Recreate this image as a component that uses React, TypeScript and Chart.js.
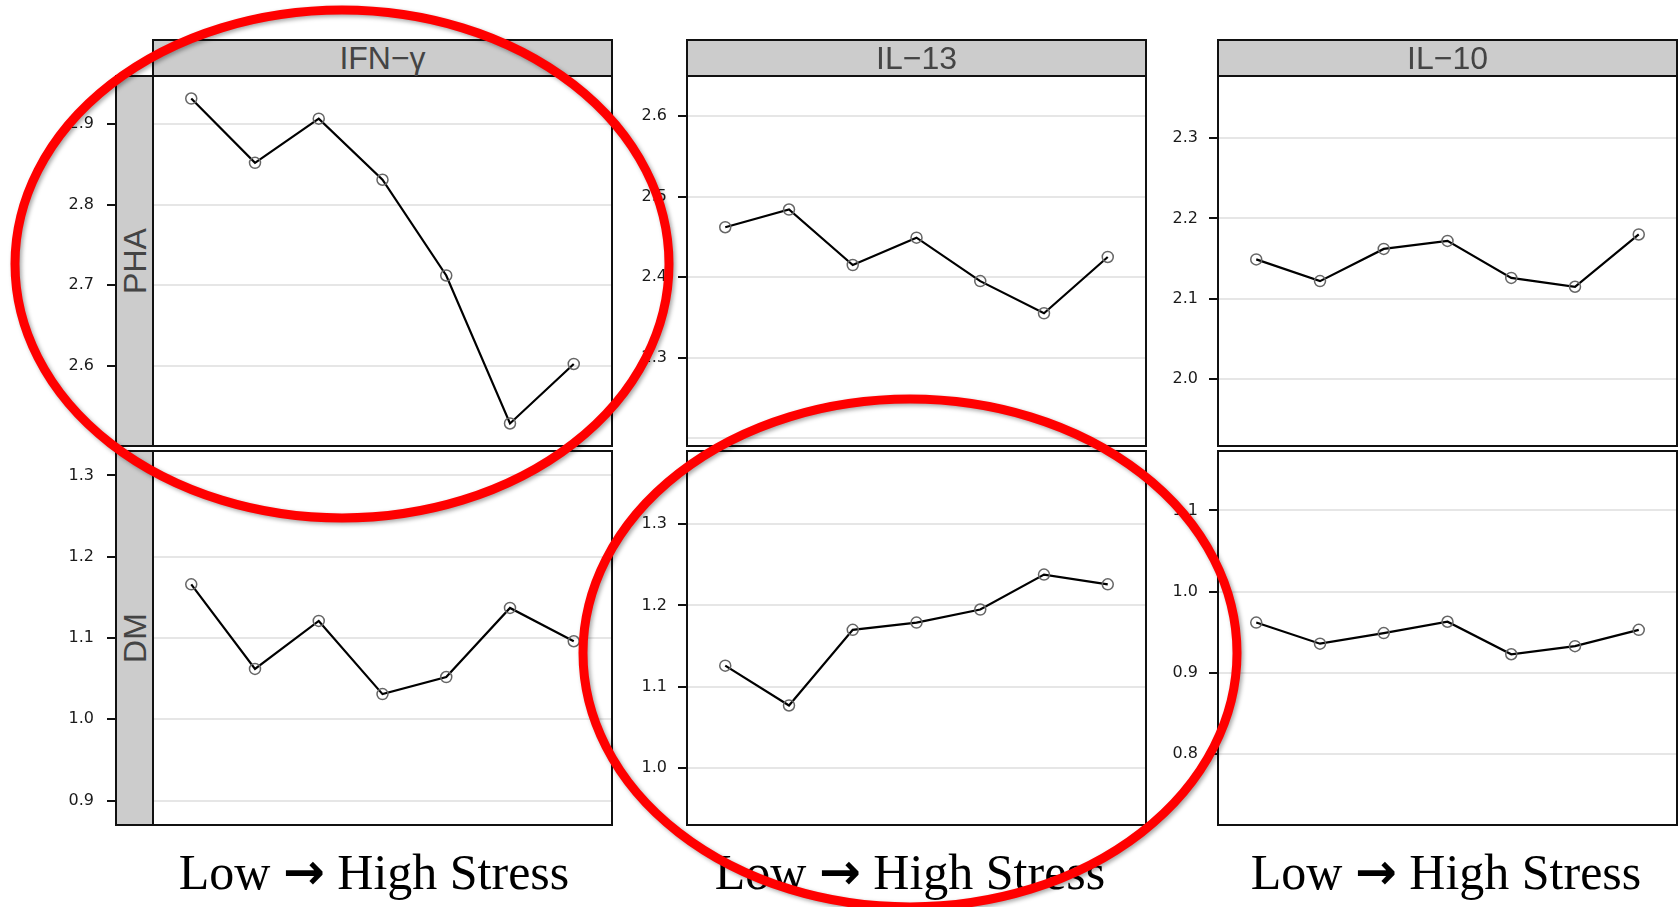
import React, { useEffect, useRef } from 'react';
import { Chart, registerables } from 'chart.js';

Chart.register(...registerables);

// Stress level groups, low → high
const stressLevels = [1, 2, 3, 4, 5, 6, 7];

// Mean cytokine response after PHA stimulation
const ifnPha = [2.932, 2.852, 2.907, 2.831, 2.712, 2.528, 2.602];
const il13Pha = [2.462, 2.484, 2.415, 2.449, 2.395, 2.355, 2.425];
const il10Pha = [2.149, 2.122, 2.162, 2.172, 2.126, 2.115, 2.18];

// Mean cytokine response after DM stimulation
const ifnDm = [1.166, 1.062, 1.121, 1.031, 1.052, 1.137, 1.096];
const il13Dm = [1.126, 1.077, 1.17, 1.179, 1.195, 1.238, 1.226];
const il10Dm = [0.962, 0.936, 0.949, 0.963, 0.923, 0.933, 0.953];

const cytokines = ['IFN−γ', 'IL−13', 'IL−10'];
const stimuli = ['PHA', 'DM'];
const axisCaption = 'High Stress';

// Y limits (same span in every panel)
const ifnPhaRange = [2.5, 2.96];
const il13PhaRange = [2.19, 2.65];
const il10PhaRange = [1.917, 2.377];
const ifnDmRange = [0.87, 1.33];
const il13DmRange = [0.93, 1.39];
const il10DmRange = [0.713, 1.173];

// Gridline positions and the ticks that carry a label
const ifnPhaGrid = [2.6, 2.7, 2.8, 2.9];
const il13PhaGrid = [2.2, 2.3, 2.4, 2.5, 2.6];
const il10PhaGrid = [2.0, 2.1, 2.2, 2.3];
const ifnDmGrid = [0.9, 1.0, 1.1, 1.2, 1.3];
const il13DmGrid = [1.0, 1.1, 1.2, 1.3];
const il10DmGrid = [0.8, 0.9, 1.0, 1.1];

const ifnPhaLabels = [2.6, 2.7, 2.8, 2.9];
const il13PhaLabels = [2.3, 2.4, 2.5, 2.6];
const il10PhaLabels = [2.0, 2.1, 2.2, 2.3];
const ifnDmLabels = [0.9, 1.0, 1.1, 1.2, 1.3];
const il13DmLabels = [1.0, 1.1, 1.2, 1.3];
const il10DmLabels = [0.8, 0.9, 1.0, 1.1];

const seriesGrid = [
  [ifnPha, il13Pha, il10Pha],
  [ifnDm, il13Dm, il10Dm],
];
const rangeGrid = [
  [ifnPhaRange, il13PhaRange, il10PhaRange],
  [ifnDmRange, il13DmRange, il10DmRange],
];
const gridGrid = [
  [ifnPhaGrid, il13PhaGrid, il10PhaGrid],
  [ifnDmGrid, il13DmGrid, il10DmGrid],
];
const labelGrid = [
  [ifnPhaLabels, il13PhaLabels, il10PhaLabels],
  [ifnDmLabels, il13DmLabels, il10DmLabels],
];

// Page layout
const colLeft = [153, 687, 1218];
const colWidth = 459;
const rowTop = [76, 451];
const rowHeight = [370, 374];
const headerTop = 39;
const stripLeft = 115;
const axisW = 100;
const pad = 2;
const captionCenters = [374, 910, 1446];

const has = (list: number[], v: number) => list.some((l) => Math.abs(l - v) < 1e-6);

const framePlugin = {
  id: 'panelFrame',
  afterDraw(chart: any) {
    const { ctx, chartArea: a } = chart;
    ctx.save();
    ctx.strokeStyle = '#111';
    ctx.lineWidth = 2;
    ctx.strokeRect(a.left, a.top, a.right - a.left, a.bottom - a.top);
    ctx.restore();
  },
};

type PanelProps = {
  values: number[];
  range: number[];
  grid: number[];
  labels: number[];
  left: number;
  top: number;
  height: number;
  firstCol: boolean;
};

function Panel({ values, range, grid, labels, left, top, height, firstCol }: PanelProps) {
  const ref = useRef<HTMLCanvasElement>(null);
  const w = axisW + colWidth + pad;
  const h = height + pad * 2;

  useEffect(() => {
    const canvas = ref.current!;
    const chart = new Chart(canvas, {
      type: 'line',
      data: {
        datasets: [
          {
            data: stressLevels.map((s, i) => ({ x: s, y: values[i] })),
            borderColor: '#000',
            borderWidth: 2.2,
            pointRadius: 5.5,
            pointBorderColor: '#666',
            pointBorderWidth: 1.5,
            pointBackgroundColor: 'rgba(0,0,0,0)',
            tension: 0,
          },
        ],
      },
      options: {
        animation: false,
        responsive: false,
        maintainAspectRatio: false,
        layout: { autoPadding: false, padding: { top: pad, right: pad, bottom: pad, left: 0 } },
        plugins: { legend: { display: false }, tooltip: { enabled: false } },
        scales: {
          x: { type: 'linear', min: 0.4, max: 7.6, display: false },
          y: {
            type: 'linear',
            min: range[0],
            max: range[1],
            afterFit(scale: any) {
              scale.width = axisW;
              scale.paddingTop = 0;
              scale.paddingBottom = 0;
            },
            afterBuildTicks(scale: any) {
              scale.ticks = grid.map((v) => ({ value: v }));
            },
            ticks: {
              autoSkip: false,
              padding: firstCol ? 13 : 11,
              color: '#1a1a1a',
              font: { family: 'DejaVu Sans', size: 16 },
              callback: (v: any) => (has(labels, Number(v)) ? Number(v).toFixed(1) : ''),
            },
            grid: {
              color: '#e6e6e6',
              lineWidth: 2,
              tickLength: firstCol ? 46 : 9,
              tickWidth: 2,
              tickColor: (ctx: any) => (has(labels, ctx.tick.value) ? '#111' : 'rgba(0,0,0,0)'),
            },
            border: { display: false },
          },
        },
      },
      plugins: [framePlugin],
    } as any);
    return () => chart.destroy();
  }, []);

  return (
    <canvas
      ref={ref}
      width={w}
      height={h}
      style={{ position: 'absolute', left: left - axisW, top: top - pad, width: w, height: h }}
    />
  );
}

function Ellipses() {
  const ref = useRef<HTMLCanvasElement>(null);
  useEffect(() => {
    const ctx = ref.current!.getContext('2d')!;
    ctx.clearRect(0, 0, 1680, 907);
    ctx.save();
    ctx.strokeStyle = '#ff0000';
    ctx.lineWidth = 9;
    ctx.shadowColor = 'rgba(0,0,0,0.35)';
    ctx.shadowBlur = 4;
    ctx.shadowOffsetX = 2;
    ctx.shadowOffsetY = 2;
    const rings = [
      [342, 264],
      [910, 653],
    ];
    rings.forEach(([cx, cy]) => {
      ctx.beginPath();
      ctx.ellipse(cx, cy, 327, 254, 0, 0, Math.PI * 2);
      ctx.stroke();
    });
    ctx.restore();
  }, []);
  return (
    <canvas
      ref={ref}
      width={1680}
      height={907}
      style={{ position: 'absolute', left: 0, top: 0, pointerEvents: 'none' }}
    />
  );
}

const stripText: React.CSSProperties = {
  fontFamily: '"Liberation Sans", Arial, sans-serif',
  fontSize: 32,
  color: '#444',
};

export default function App() {
  useEffect(() => {
    document.body.style.margin = '0';
  }, []);

  return (
    <div
      style={{
        position: 'fixed',
        left: 0,
        top: 0,
        width: 1680,
        height: 907,
        background: '#fff',
        overflow: 'hidden',
      }}
    >
      {rowTop.map((top, r) =>
        colLeft.map((left, c) => (
          <Panel
            key={`${r}-${c}`}
            values={seriesGrid[r][c]}
            range={rangeGrid[r][c]}
            grid={gridGrid[r][c]}
            labels={labelGrid[r][c]}
            left={left}
            top={top}
            height={rowHeight[r]}
            firstCol={c === 0}
          />
        ))
      )}

      {cytokines.map((name, c) => (
        <div
          key={name}
          style={{
            position: 'absolute',
            left: colLeft[c] - 1,
            top: headerTop,
            width: colWidth + 2,
            height: rowTop[0] - headerTop + 1,
            boxSizing: 'border-box',
            border: '2px solid #111',
            background: '#cccccc',
            textAlign: 'center',
            lineHeight: `${rowTop[0] - headerTop - 3}px`,
            ...stripText,
          }}
        >
          {name}
        </div>
      ))}

      {stimuli.map((name, r) => (
        <div
          key={name}
          style={{
            position: 'absolute',
            left: stripLeft,
            top: rowTop[r] - 1,
            width: colLeft[0] - stripLeft + 1,
            height: rowHeight[r] + 2,
            boxSizing: 'border-box',
            border: '2px solid #111',
            background: '#cccccc',
            display: 'flex',
            alignItems: 'center',
            justifyContent: 'center',
          }}
        >
          <span
            style={{
              ...stripText,
              transform: 'rotate(-90deg)',
              whiteSpace: 'nowrap',
              display: 'inline-block',
              lineHeight: '32px',
            }}
          >
            {name}
          </span>
        </div>
      ))}

      {captionCenters.map((cx, i) => (
        <div
          key={i}
          style={{
            position: 'absolute',
            left: cx - 300,
            top: 847,
            width: 600,
            height: 50,
            lineHeight: '50px',
            textAlign: 'center',
            fontFamily: '"Liberation Serif", "Times New Roman", serif',
            fontSize: 50,
            color: '#000',
            whiteSpace: 'nowrap',
          }}
        >
          Low{' '}
          <span style={{ fontWeight: 'bold', fontFamily: '"DejaVu Sans", sans-serif', fontSize: 50 }}>→</span>{' '}
          {axisCaption}
        </div>
      ))}

      <Ellipses />
    </div>
  );
}
